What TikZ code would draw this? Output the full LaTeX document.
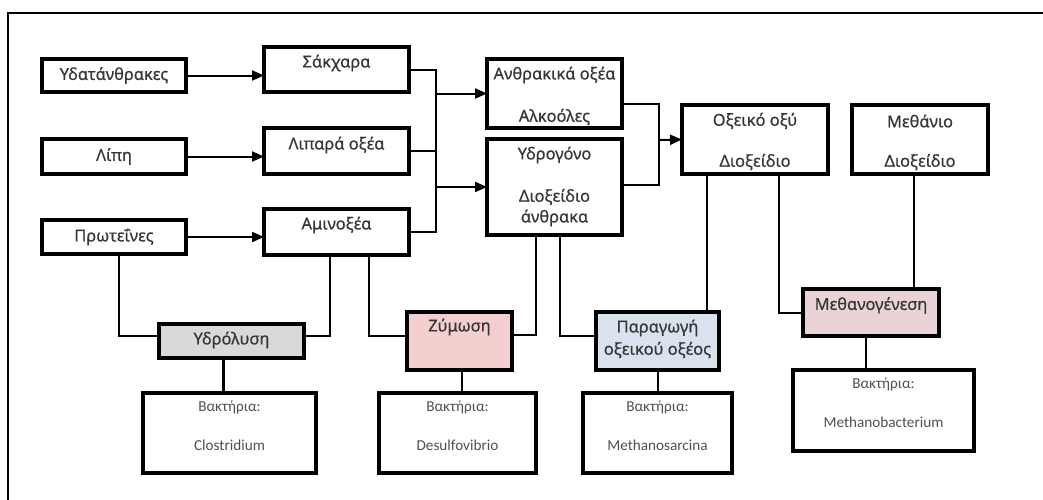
\documentclass[tikz,border=0pt]{standalone}
\usepackage{fontspec}
\setmainfont{Noto Sans}
\newfontfamily\hdrfont[FakeBold=0.6]{Noto Sans}
\newfontfamily\bacfont{Carlito}
\usetikzlibrary{arrows.meta}

\definecolor{txt}{HTML}{363636}
\definecolor{bactxt}{HTML}{505050}
\definecolor{hydfill}{HTML}{D9D9D9}
\definecolor{zymfill}{HTML}{F3CFD0}
\definecolor{parfill}{HTML}{DAE2EE}
\definecolor{metfill}{HTML}{E9D3D7}

\tikzset{
  boxst/.style={draw=black, line width=2.4pt, inner sep=0pt, outer sep=0pt},
  lbl/.style={inner sep=0pt, text=txt, font=\hdrfont\fontsize{12.3}{14}\selectfont},
  baclbl/.style={inner sep=0pt, text=bactxt, font=\bacfont\fontsize{11.4}{13}\selectfont},
  conn/.style={draw=black, line width=1.5pt},
  thickconn/.style={draw=black, line width=2.2pt},
  arr/.style={conn, -{Triangle[length=9pt,width=7.5pt]}},
  frameline/.style={draw=black, line width=1.9pt}
}

% \mkbox{style}{name}{x1}{y1}{x2}{y2}
\newcommand\mkbox[6]{%
  \node[boxst,#1, minimum width={(#5-#3)*0.75pt}, minimum height={(#6-#4)*0.75pt}]
    (#2) at ({(#3+#5)/2},{(#4+#6)/2}) {};}

\begin{document}
\begin{tikzpicture}[x=0.75pt,y=-0.75pt]
\useasboundingbox (0,0) rectangle (1043,500);

% outer frame (top and left edges)
\draw[frameline] (1060,13) -- (8,13) -- (8,520);

% substrates
\mkbox{}{carb}{42}{59}{186}{92}
\mkbox{}{lipi}{42}{139}{186}{174}
\mkbox{}{prot}{42}{220}{186}{254}
\node[lbl] (tcarb) at (114,75.5) {Υδατάνθρακες};
\node[lbl] (tlipi) at (114,156.5) {Λίπη};
\node[lbl] (tprot) at (114,237) {Πρωτεΐνες};

% monomers
\mkbox{}{sak}{264}{47}{409}{92}
\mkbox{}{lipa}{264}{128}{409}{174}
\mkbox{}{amino}{264}{209}{409}{255}
\node[lbl] (tsak) at (336.5,63) {Σάκχαρα};
\node[lbl] (tlipa) at (336.5,145) {Λιπαρά οξέα};
\node[lbl] (tamino) at (336.5,225) {Αμινοξέα};

% intermediates
\mkbox{}{anth}{487}{59}{622}{128}
\mkbox{}{ydro}{487}{139}{622}{235}
\node[lbl] (tanth1) at (554.5,75) {Ανθρακικά οξέα};
\node[lbl] (tanth2) at (554.5,117) {Αλκοόλες};
\node[lbl] (tydro1) at (554.5,155) {Υδρογόνο};
\node[lbl] (tydro2) at (554.5,197) {Διοξείδιο};
\node[lbl] (tydro3) at (554.5,218) {άνθρακα};

% products
\mkbox{}{oxy}{682}{105}{828}{174}
\mkbox{}{meth}{852}{105}{988}{174}
\node[lbl] (toxy1) at (755,121) {Οξεικό οξύ};
\node[lbl] (toxy2) at (755,162) {Διοξείδιο};
\node[lbl] (tmeth1) at (920,121) {Μεθάνιο};
\node[lbl] (tmeth2) at (920,162) {Διοξείδιο};

% process stages
\mkbox{fill=hydfill}{hyd}{159}{324}{304}{358}
\mkbox{fill=zymfill}{zym}{407}{312}{512}{370}
\mkbox{fill=parfill}{para}{596}{312}{719}{370}
\mkbox{fill=metfill}{mgen}{803}{289}{939}{336}
\node[lbl] (thyd) at (231.5,340) {Υδρόλυση};
\node[lbl] (tzym) at (459.5,327) {Ζύμωση};
\node[lbl] (tpara1) at (657.5,328) {Παραγωγή};
\node[lbl] (tpara2) at (657.5,350) {οξεικού οξέος};
\node[lbl] (tmgen) at (871,305.5) {Μεθανογένεση};

% bacteria
\mkbox{}{bac1}{143}{393}{316}{473}
\mkbox{}{bac2}{379}{393}{536}{473}
\mkbox{}{bac3}{583}{393}{732}{473}
\mkbox{}{bac4}{793}{370}{974}{451}
\node[baclbl] (tbac1a) at (229.5,407) {Βακτήρια:};
\node[baclbl] (tbac1b) at (229.5,445) {Clostridium};
\node[baclbl] (tbac2a) at (457.5,407) {Βακτήρια:};
\node[baclbl] (tbac2b) at (457.5,445) {Desulfovibrio};
\node[baclbl] (tbac3a) at (657.5,407) {Βακτήρια:};
\node[baclbl] (tbac3b) at (657.5,445) {Methanosarcina};
\node[baclbl] (tbac4a) at (883.5,384) {Βακτήρια:};
\node[baclbl] (tbac4b) at (883.5,422) {Methanobacterium};

% junction points
\coordinate (busA) at (436,232);
\coordinate (busB) at (659,140);

% substrates to monomers
\draw[arr] (carb.east) -- (sak.west |- carb.east);
\draw[arr] (lipi.east) -- (lipa.west |- lipi.east);
\draw[arr] (prot.east) -- (amino.west |- prot.east);

% monomers into the collecting bus
\draw[conn] (sak.east) -| (busA) -- (amino.east);
\draw[conn] (lipa.east) -- (lipa.east -| busA);
\draw[arr] (busA |- anth.west) -- (anth.west);
\draw[arr] (busA |- ydro.west) -- (ydro.west);

% intermediates to acetic acid
\draw[conn] ([yshift=-7.9pt]anth.east) -| (busB) |- ([yshift=1.5pt]ydro.east);
\draw[arr] (busB) -- (oxy.west);

% hydrolysis
\draw[conn] ([xshift=3.75pt]prot.south) |- ([yshift=3.75pt]hyd.west);
\draw[conn] ([xshift=-4.9pt]amino.south) |- ([yshift=3.75pt]hyd.east);
\draw[thickconn] ([xshift=-6pt]hyd.south) -- ([xshift=-6pt]hyd.south |- bac1.north);

% fermentation
\draw[conn] ([xshift=24.4pt]amino.south) |- ([yshift=3.75pt]zym.west);
\draw[conn] ([yshift=4.5pt]zym.east) -| ([xshift=-13.9pt]ydro.south);
\draw[conn] ([xshift=2pt]zym.south) -- ([xshift=2pt]zym.south |- bac2.north);

% acetic acid production
\draw[thickconn] ([xshift=4.1pt]ydro.south) |- ([yshift=3.75pt]para.west);
\draw[conn] ([xshift=-36pt]oxy.south) -- ([xshift=-36pt]oxy.south |- para.north);
\draw[conn] (para.south) -- (para.south |- bac3.north);

% methanogenesis
\draw[conn] ([xshift=18pt]oxy.south) |- (mgen.west);
\draw[conn] ([xshift=-4.5pt]meth.south) -- ([xshift=-4.5pt]meth.south |- mgen.north);
\draw[thickconn] ([xshift=-3.75pt]mgen.south) -- ([xshift=-3.75pt]mgen.south |- bac4.north);
\end{tikzpicture}
\end{document}
